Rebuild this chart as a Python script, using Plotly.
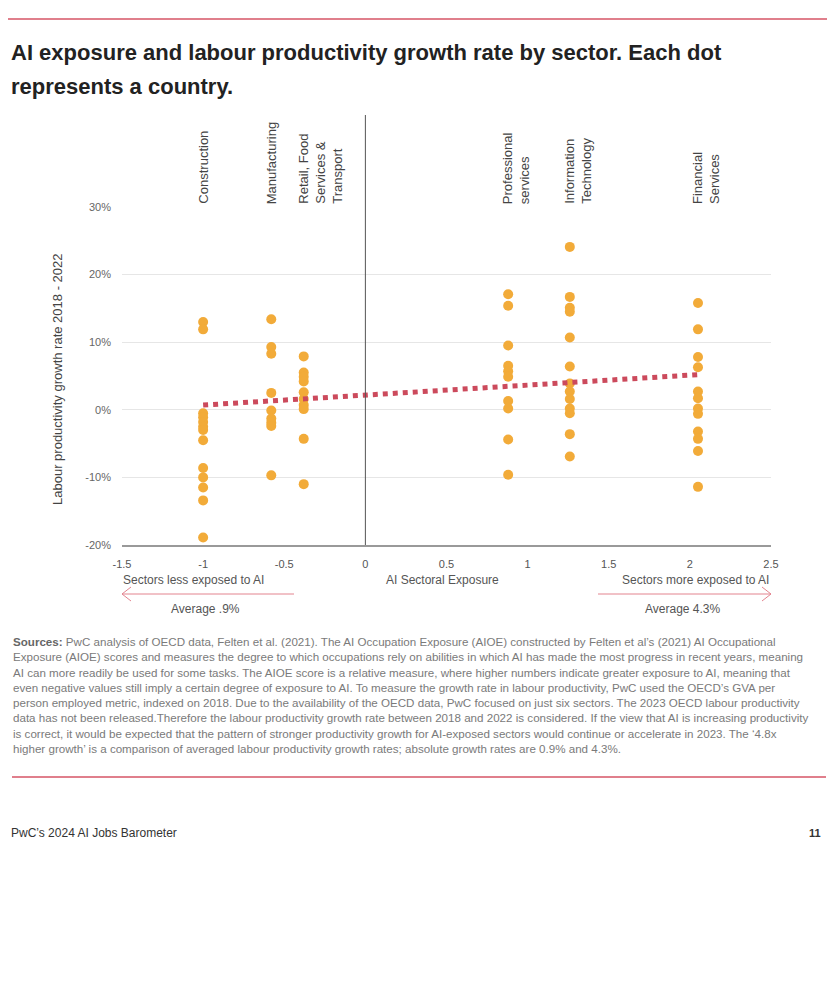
import plotly.graph_objects as go

# ---------------- data ----------------
sectors = ["Construction", "Manufacturing", "Retail, Food<br>Services &<br>Transport",
           "Professional<br>services", "Information<br>Technology", "Financial<br>Services"]
sector_x = [-1.0, -0.58, -0.38, 0.88, 1.26, 2.05]

construction = [13.0, 11.9, -0.5, -1.1, -1.8, -2.5, -3.0, -4.5, -8.6, -10.0, -11.5, -13.4, -18.9]
manufacturing = [13.4, 9.3, 8.3, 2.5, -0.1, -1.3, -1.9, -2.4, -9.7]
retail = [7.9, 5.5, 4.9, 4.2, 2.6, 1.6, 0.7, 0.1, -4.3, -11.0]
professional = [17.1, 15.4, 9.5, 6.5, 5.7, 4.9, 1.3, 0.2, -4.4, -9.6]
info_tech = [24.1, 16.7, 15.1, 14.5, 10.7, 6.4, 3.9, 2.7, 1.6, 0.2, -0.5, -3.6, -6.9]
financial = [15.8, 11.9, 7.8, 6.3, 2.7, 1.7, 0.2, -0.6, -3.2, -4.3, -6.1, -11.4]
sector_values = [construction, manufacturing, retail, professional, info_tech, financial]

trend_x = [-1.0, 2.05]
trend_y = [0.7, 5.2]

x_ticks = [-1.5, -1, -0.5, 0, 0.5, 1, 1.5, 2, 2.5]
y_ticks = [-20, -10, 0, 10, 20, 30]

# ---------------- layout geometry ----------------
OFF = 8  # page body margin
W, H = 835 - 2 * OFF, 984 - 2 * OFF
L, R, T, B = 122, 771, 207, 545  # plot-area edges in page pixels


def px(x):
    return (x - L) / (R - L)


def py(y):
    return (B - y) / (B - T)


ORANGE = "#f2ab39"
TREND = "#cc4a5c"
PINK = "#e3848f"
FONT = "Liberation Sans, Arial, Helvetica, sans-serif"

fig = go.Figure()

xs, ys = [], []
for sx, vals in zip(sector_x, sector_values):
    xs += [sx] * len(vals)
    ys += vals

fig.add_trace(go.Scatter(x=xs, y=ys, mode="markers",
                         marker=dict(size=10, color=ORANGE, line=dict(width=0)),
                         showlegend=False, hoverinfo="x+y"))
fig.add_trace(go.Scatter(x=trend_x, y=trend_y, mode="lines",
                         line=dict(color=TREND, width=5, dash="5px,5px"),
                         showlegend=False, hoverinfo="skip"))

fig.update_layout(
    width=W, height=H,
    margin=dict(l=L - OFF, r=W - (R - OFF), t=T - OFF, b=H - (B - OFF)),
    paper_bgcolor="white", plot_bgcolor="white",
    font=dict(family=FONT, color="#555"),
    xaxis=dict(range=[-1.5, 2.5], tickvals=x_ticks, ticktext=[f"{v:g}" for v in x_ticks],
               showgrid=False, zeroline=False, showline=True, linecolor="#999", linewidth=1.5,
               ticks="", tickfont=dict(size=11, color="#555"), ticklabelstandoff=8),
    yaxis=dict(range=[-20, 30], tickvals=y_ticks, ticktext=[f"{v}%" for v in y_ticks],
               showgrid=True, gridcolor="#e6e6e6", gridwidth=1, zeroline=False,
               showline=False, ticks="", tickfont=dict(size=11, color="#666"), ticklabelstandoff=10),
)

shapes = []
# vertical line at x = 0
shapes.append(dict(type="line", xref="x", yref="paper", x0=0, x1=0, y0=0, y1=py(115),
                   line=dict(color="#555", width=1)))
# red separator lines
shapes.append(dict(type="line", xref="paper", yref="paper", x0=px(8), x1=px(827), y0=py(19), y1=py(19),
                   line=dict(color="#e07f8c", width=2)))
shapes.append(dict(type="line", xref="paper", yref="paper", x0=px(12), x1=px(826), y0=py(777), y1=py(777),
                   line=dict(color="#e07f8c", width=2)))
# arrows
ay = 594
shapes.append(dict(type="line", xref="paper", yref="paper", x0=px(122), x1=px(294), y0=py(ay), y1=py(ay),
                   line=dict(color=PINK, width=1)))
shapes.append(dict(type="path", xref="paper", yref="paper",
                   path=f"M {px(131)} {py(ay-7)} L {px(122)} {py(ay)} L {px(131)} {py(ay+7)}",
                   line=dict(color=PINK, width=1)))
shapes.append(dict(type="line", xref="paper", yref="paper", x0=px(598), x1=px(771), y0=py(ay), y1=py(ay),
                   line=dict(color=PINK, width=1)))
shapes.append(dict(type="path", xref="paper", yref="paper",
                   path=f"M {px(762)} {py(ay-7)} L {px(771)} {py(ay)} L {px(762)} {py(ay+7)}",
                   line=dict(color=PINK, width=1)))
fig.update_layout(shapes=shapes)

ann = []
# title
ann.append(dict(text="<b>AI exposure and labour productivity growth rate by sector. Each dot</b>",
                xref="paper", yref="paper", x=px(9), y=py(53), xanchor="left", yanchor="middle",
                showarrow=False, font=dict(size=22, color="#222")))
ann.append(dict(text="<b>represents a country.</b>",
                xref="paper", yref="paper", x=px(9), y=py(87), xanchor="left", yanchor="middle",
                showarrow=False, font=dict(size=22, color="#222")))
# sector labels
for name, sx in zip(sectors, sector_x):
    n = name.count("<br>") + 1
    ann.append(dict(text=name, xref="x", yref="paper", x=sx, y=py(206), textangle=-90,
                    xanchor="center", yanchor="bottom", align="left", showarrow=False,
                    xshift=(n - 1) * 8, font=dict(size=13, color="#444")))
# y axis title
ann.append(dict(text="Labour productivity growth rate 2018 - 2022", xref="paper", yref="paper",
                x=px(57), y=py(379), textangle=-90, xanchor="center", yanchor="middle",
                showarrow=False, font=dict(size=13, color="#444")))
# x axis descriptions
ann.append(dict(text="Sectors less exposed to AI", xref="paper", yref="paper", x=px(121), y=py(580),
                xanchor="left", yanchor="middle", showarrow=False, font=dict(size=12, color="#555")))
ann.append(dict(text="AI Sectoral Exposure", xref="paper", yref="paper", x=px(442), y=py(580),
                xanchor="center", yanchor="middle", showarrow=False, font=dict(size=12, color="#555")))
ann.append(dict(text="Sectors more exposed to AI", xref="paper", yref="paper", x=px(771), y=py(580),
                xanchor="right", yanchor="middle", showarrow=False, font=dict(size=12, color="#555")))
ann.append(dict(text="Average .9%", xref="paper", yref="paper", x=px(205), y=py(609),
                xanchor="center", yanchor="middle", showarrow=False, font=dict(size=12, color="#555")))
ann.append(dict(text="Average 4.3%", xref="paper", yref="paper", x=px(682), y=py(609),
                xanchor="center", yanchor="middle", showarrow=False, font=dict(size=12, color="#555")))

# sources text
src_lines = [
    "<b><span style='color:#666'>Sources:</span></b> PwC analysis of OECD data, Felten et al. (2021). The AI Occupation Exposure (AIOE) constructed by Felten et al\u2019s (2021) AI Occupational",
    "Exposure (AIOE) scores and measures the degree to which occupations rely on abilities in which AI has made the most progress in recent years, meaning",
    "AI can more readily be used for some tasks. The AIOE score is a relative measure, where higher numbers indicate greater exposure to AI, meaning that",
    "even negative values still imply a certain degree of exposure to AI. To measure the growth rate in labour productivity, PwC used the OECD\u2019s GVA per",
    "person employed metric, indexed on 2018. Due to the availability of the OECD data, PwC focused on just six sectors. The 2023 OECD labour productivity",
    "data has not been released.Therefore the labour productivity growth rate between 2018 and 2022 is considered. If the view that AI is increasing productivity",
    "is correct, it would be expected that the pattern of stronger productivity growth for AI-exposed sectors would continue or accelerate in 2023. The \u20184.8x",
    "higher growth\u2019 is a comparison of averaged labour productivity growth rates; absolute growth rates are 0.9% and 4.3%.",
]
for i, line in enumerate(src_lines):
    ann.append(dict(text=line, xref="paper", yref="paper", x=px(11), y=py(641.7 + i * 15.23),
                    xanchor="left", yanchor="middle", showarrow=False,
                    font=dict(size=11.6, color="#7a7a7a")))

# footer
ann.append(dict(text="PwC\u2019s 2024 AI Jobs Barometer", xref="paper", yref="paper", x=px(9), y=py(833),
                xanchor="left", yanchor="middle", showarrow=False, font=dict(size=12, color="#333")))
ann.append(dict(text="<b>11</b>", xref="paper", yref="paper", x=px(823), y=py(833),
                xanchor="right", yanchor="middle", showarrow=False, font=dict(size=11, color="#333")))

fig.update_layout(annotations=ann)

fig.write_html("out.html")
